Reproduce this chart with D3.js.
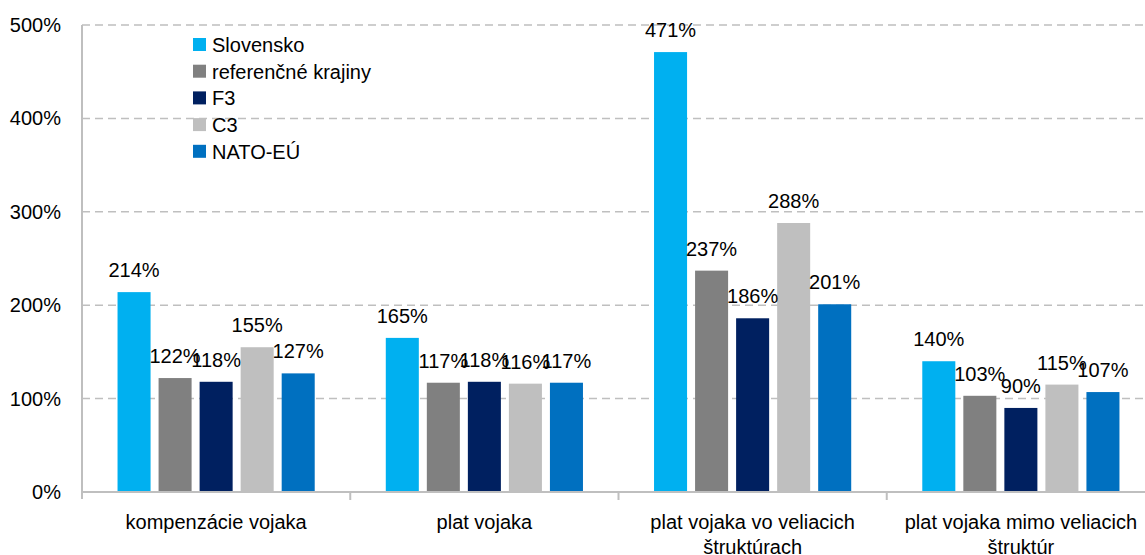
<!DOCTYPE html>
<html>
<head>
<meta charset="utf-8">
<script src="https://cdn.jsdelivr.net/npm/d3@7"></script>
<style>
  body { margin: 0; background: #fff; }
  text { font-family: "Liberation Sans", Arial, sans-serif; fill: #000; }
</style>
</head>
<body>
<div id="chart"></div>
<script>
const categories = ["kompenzácie vojaka", "plat vojaka", "plat vojaka vo veliacich štruktúrach", "plat vojaka mimo veliacich štruktúr"];
const seriesNames = ["Slovensko", "referenčné krajiny", "F3", "C3", "NATO-EÚ"];
const seriesColors = ["#00B0F0", "#808080", "#002060", "#BFBFBF", "#0070C0"];
// values in % per series, in category order
const slovensko = [214, 165, 471, 140];
const referencne = [122, 117, 237, 103];
const f3 = [118, 118, 186, 90];
const c3 = [155, 116, 288, 115];
const natoEu = [127, 117, 201, 107];
const yTicks = [0, 100, 200, 300, 400, 500];

const seriesValues = [slovensko, referencne, f3, c3, natoEu];

const width = 1145;
const height = 555;
const margin = { top: 25, right: -10, bottom: 63, left: 82 };

const svg = d3.select("#chart")
              .append("svg")
              .attr("width", width)
              .attr("height", height);

const x0 = d3.scaleBand()
             .domain(categories)
             .range([margin.left, width - margin.right]);

const x1 = d3.scaleBand()
             .domain(seriesNames)
             .range([0, x0.bandwidth()])
             .paddingInner(0.195)
             .paddingOuter(0.866);

const y = d3.scaleLinear()
            .domain([0, 500])
            .range([height - margin.bottom, margin.top]);

// dashed gridlines
svg.append("g")
   .selectAll("line")
   .data(yTicks.filter(d => d > 0))
   .enter()
   .append("line")
   .attr("x1", margin.left)
   .attr("x2", width)
   .attr("y1", d => y(d))
   .attr("y2", d => y(d))
   .style("stroke", "#BFBFBF")
   .style("stroke-width", 1.5)
   .style("stroke-dasharray", "8,5");

// y tick labels
svg.append("g")
   .selectAll("text")
   .data(yTicks)
   .enter()
   .append("text")
   .attr("x", 61)
   .attr("y", d => y(d) + 7)
   .attr("text-anchor", "end")
   .style("font-size", "20px")
   .text(d => d + "%");

// bars
const groups = svg.append("g")
                  .selectAll("g")
                  .data(categories)
                  .enter()
                  .append("g")
                  .attr("transform", d => `translate(${x0(d)},0)`);

const barData = (cat, ci) => seriesNames.map((s, si) => ({ series: s, value: seriesValues[si][ci], color: seriesColors[si] }));

groups.selectAll("rect")
      .data((d, i) => barData(d, i))
      .enter()
      .append("rect")
      .attr("x", d => x1(d.series))
      .attr("y", d => y(d.value))
      .attr("width", x1.bandwidth())
      .attr("height", d => y(0) - y(d.value))
      .style("fill", d => d.color);

// value labels
groups.selectAll("text")
      .data((d, i) => barData(d, i))
      .enter()
      .append("text")
      .attr("x", d => x1(d.series) + x1.bandwidth() / 2)
      .attr("y", d => y(d.value) - 15)
      .attr("text-anchor", "middle")
      .style("font-size", "20px")
      .text(d => d.value + "%");

// axes lines
svg.append("line")
   .attr("x1", margin.left)
   .attr("x2", margin.left)
   .attr("y1", y(500))
   .attr("y2", y(0) + 7)
   .style("stroke", "#BFBFBF")
   .style("stroke-width", 2);

svg.append("line")
   .attr("x1", margin.left)
   .attr("x2", width)
   .attr("y1", y(0))
   .attr("y2", y(0))
   .style("stroke", "#BFBFBF")
   .style("stroke-width", 2);

// category tick marks
svg.append("g")
   .selectAll("line")
   .data(categories.slice(1))
   .enter()
   .append("line")
   .attr("x1", d => x0(d))
   .attr("x2", d => x0(d))
   .attr("y1", y(0))
   .attr("y2", y(0) + 8)
   .style("stroke", "#BFBFBF")
   .style("stroke-width", 2);

// category labels with wrapping
const catLabels = svg.append("g")
                     .selectAll("text")
                     .data(categories)
                     .enter()
                     .append("text")
                     .attr("x", d => x0(d) + x0.bandwidth() / 2)
                     .attr("y", y(0) + 37)
                     .attr("text-anchor", "middle")
                     .style("font-size", "20px")
                     .text(d => d);

catLabels.each(function(d) {
    const text = d3.select(this);
    const words = d.split(" ");
    const xPos = text.attr("x");
    const yPos = +text.attr("y");
    let line = [];
    let lineNumber = 0;
    text.text(null);
    let tspan = text.append("tspan").attr("x", xPos).attr("y", yPos);
    words.forEach(word => {
        line.push(word);
        tspan.text(line.join(" "));
        if (tspan.node().getComputedTextLength() > 250 && line.length > 1) {
            line.pop();
            tspan.text(line.join(" "));
            line = [word];
            lineNumber++;
            tspan = text.append("tspan")
                        .attr("x", xPos)
                        .attr("y", yPos + lineNumber * 25)
                        .text(word);
        }
    });
});

// legend
const legend = svg.append("g")
                  .attr("transform", "translate(193, 38)");

const legendItems = legend.selectAll("g")
                          .data(seriesNames)
                          .enter()
                          .append("g")
                          .attr("transform", (d, i) => `translate(0, ${i * 26.7})`);

legendItems.append("rect")
           .attr("width", 13)
           .attr("height", 13)
           .style("fill", (d, i) => seriesColors[i]);

legendItems.append("text")
           .attr("x", 19)
           .attr("y", 14)
           .style("font-size", "20px")
           .text(d => d);
</script>
</body>
</html>
